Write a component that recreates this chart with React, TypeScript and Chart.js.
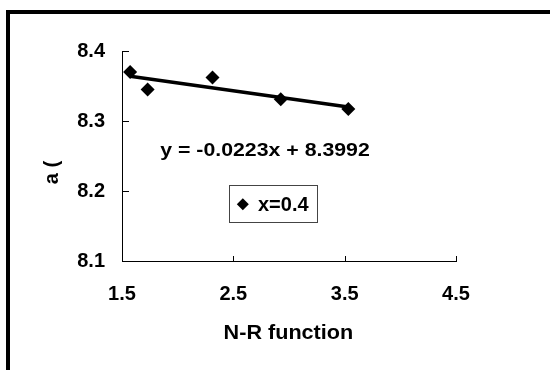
import { useEffect, useRef } from "react";
import { Chart, registerables } from "chart.js";

Chart.register(...registerables);

// ---- data ----
const nrX = [1.573, 1.73, 2.313, 2.926, 3.533];
const aY = [8.37, 8.345, 8.362, 8.331, 8.317];
const trendX = [1.573, 3.533];
const trendY = [8.364, 8.32];
const xTicks = [1.5, 2.5, 3.5, 4.5];
const yTicks = [8.1, 8.2, 8.3, 8.4];
const seriesLabel = "x=0.4";
const equationText = "y = -0.0223x + 8.3992";
const xTitle = "N-R function";
const yTitle = "a (";

const FONT = "'Liberation Sans', Arial, sans-serif";

const decorPlugin = {
  id: "decor",
  afterDraw(chart: any) {
    const ctx = chart.ctx as CanvasRenderingContext2D;
    const xs = chart.scales.x;
    const ys = chart.scales.y;
    const area = chart.chartArea;
    ctx.save();
    // inside tick marks
    ctx.strokeStyle = "#000";
    ctx.lineWidth = 1;
    ctx.beginPath();
    xTicks.forEach((v) => {
      const px = Math.round(xs.getPixelForValue(v)) + 0.5;
      ctx.moveTo(px, area.bottom);
      ctx.lineTo(px, area.bottom - 5);
    });
    yTicks.forEach((v) => {
      const py = Math.round(ys.getPixelForValue(v)) + 0.5;
      ctx.moveTo(area.left, py);
      ctx.lineTo(area.left + 7, py);
    });
    ctx.stroke();

    ctx.fillStyle = "#000";
    // equation text (slightly stretched like the original)
    ctx.save();
    ctx.font = `bold 19px ${FONT}`;
    ctx.textAlign = "center";
    ctx.textBaseline = "middle";
    ctx.translate(265, 151);
    ctx.scale(1.12, 1);
    ctx.fillText(equationText, 0, 0);
    ctx.restore();

    // legend box
    ctx.strokeStyle = "#444";
    ctx.lineWidth = 1;
    ctx.strokeRect(229.5, 185.5, 88, 37);
    ctx.beginPath();
    const cx = 242.8, cy = 204.3, r = 6;
    ctx.moveTo(cx, cy - r);
    ctx.lineTo(cx + r, cy);
    ctx.lineTo(cx, cy + r);
    ctx.lineTo(cx - r, cy);
    ctx.closePath();
    ctx.fill();
    ctx.font = `bold 20px ${FONT}`;
    ctx.textAlign = "left";
    ctx.textBaseline = "middle";
    ctx.fillText(seriesLabel, 258, 205);

    // axis titles
    ctx.textAlign = "center";
    ctx.save();
    ctx.translate(288.4, 333);
    ctx.scale(1.08, 1);
    ctx.fillText(xTitle, 0, 0);
    ctx.restore();
    ctx.save();
    ctx.translate(52.6, 172.5);
    ctx.rotate(-Math.PI / 2);
    ctx.fillText(yTitle, 0, 0);
    ctx.restore();

    // outer frame
    ctx.fillRect(6, 10, 544, 4);
    ctx.fillRect(6, 10, 4, 360);
    ctx.restore();
  },
};

export default function App() {
  const ref = useRef<HTMLCanvasElement | null>(null);
  useEffect(() => {
    if (!ref.current) return;
    const tickFont = { family: FONT, size: 20, weight: "bold" as const };
    const chart = new Chart(ref.current, {
      type: "scatter",
      data: {
        datasets: [
          {
            label: "trend",
            type: "line",
            data: trendX.map((x, i) => ({ x, y: trendY[i] })),
            borderColor: "#000",
            borderWidth: 3.5,
            pointRadius: 0,
            showLine: true,
            fill: false,
          } as any,
          {
            label: seriesLabel,
            data: nrX.map((x, i) => ({ x, y: aY[i] })),
            pointStyle: "rectRot",
            pointRadius: 7,
            pointBackgroundColor: "#000",
            pointBorderWidth: 0,
            backgroundColor: "#000",
            borderColor: "#000",
          },
        ],
      },
      options: {
        animation: false,
        responsive: false,
        devicePixelRatio: 1,
        layout: { padding: { top: 51, right: 94, left: 0, bottom: 0 } },
        plugins: {
          legend: { display: false },
          tooltip: { enabled: false },
        },
        scales: {
          x: {
            type: "linear",
            min: 1.5,
            max: 4.5,
            afterBuildTicks: (s: any) => {
              s.ticks = xTicks.map((value) => ({ value }));
            },
            afterFit: (s: any) => {
              s.height = 109;
            },
            grid: { display: true, drawOnChartArea: false, drawTicks: false },
            border: { display: true, color: "#000", width: 1 },
            ticks: {
              padding: 21,
              color: "#000",
              font: tickFont,
              maxRotation: 0,
              autoSkip: false,
              callback: (v: any) => Number(v).toFixed(1),
            },
          },
          y: {
            type: "linear",
            min: 8.1,
            max: 8.4,
            afterBuildTicks: (s: any) => {
              s.ticks = yTicks.map((value) => ({ value }));
            },
            afterFit: (s: any) => {
              s.width = 122;
            },
            grid: { display: true, drawOnChartArea: false, drawTicks: false },
            border: { display: true, color: "#000", width: 1 },
            ticks: {
              padding: 17,
              color: "#000",
              font: tickFont,
              autoSkip: false,
              callback: (v: any) => Number(v).toFixed(1),
            },
          },
        },
      },
      plugins: [decorPlugin],
    });
    return () => chart.destroy();
  }, []);
  return (
    <div style={{ position: "fixed", left: 0, top: 0, width: 550, height: 370, background: "#fff" }}>
      <canvas ref={ref} width={550} height={370} style={{ display: "block", width: 550, height: 370 }} />
    </div>
  );
}
